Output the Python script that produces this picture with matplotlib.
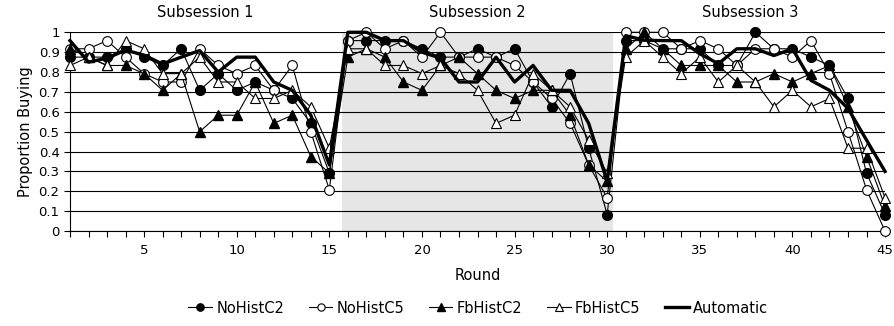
import numpy as np
import matplotlib
matplotlib.use("Agg")
import matplotlib.pyplot as plt
from matplotlib.ticker import MultipleLocator, FixedLocator

# rounds 1..45, three subsessions of 15 rounds
rounds = np.arange(1, 46)

no_hist_c2 = [0.875, 0.875, 0.875, 0.917, 0.875, 0.833, 0.917, 0.708, 0.792, 0.708, 0.75, 0.708, 0.667, 0.542, 0.292,
              0.958, 0.958, 0.958, 0.958, 0.917, 0.875, 0.875, 0.917, 0.875, 0.917, 0.75, 0.625, 0.792, 0.417, 0.083,
              0.958, 0.958, 0.917, 0.917, 0.917, 0.833, 0.833, 1.0, 0.917, 0.917, 0.875, 0.833, 0.667, 0.292, 0.083]
no_hist_c5 = [0.917, 0.917, 0.958, 0.875, 0.792, 0.75, 0.75, 0.917, 0.833, 0.792, 0.833, 0.708, 0.833, 0.5, 0.208,
              0.958, 1.0, 0.917, 0.958, 0.875, 1.0, 0.875, 0.875, 0.875, 0.833, 0.75, 0.667, 0.542, 0.333, 0.167,
              1.0, 1.0, 1.0, 0.917, 0.958, 0.917, 0.833, 0.917, 0.917, 0.875, 0.958, 0.792, 0.5, 0.208, 0.0]
fb_hist_c2 = [0.917, 0.875, 0.833, 0.833, 0.792, 0.708, 0.792, 0.5, 0.583, 0.583, 0.75, 0.542, 0.583, 0.375, 0.292,
              0.875, 0.917, 0.875, 0.75, 0.708, 0.833, 0.875, 0.792, 0.708, 0.667, 0.708, 0.708, 0.583, 0.333, 0.25,
              0.917, 1.0, 0.917, 0.833, 0.833, 0.833, 0.75, 0.75, 0.792, 0.75, 0.792, 0.833, 0.625, 0.375, 0.125]
fb_hist_c5 = [0.833, 0.875, 0.833, 0.958, 0.917, 0.792, 0.792, 0.875, 0.75, 0.75, 0.667, 0.667, 0.708, 0.625, 0.417,
              0.917, 0.917, 0.833, 0.833, 0.792, 0.833, 0.792, 0.708, 0.542, 0.583, 0.792, 0.708, 0.625, 0.458, 0.292,
              0.875, 0.958, 0.875, 0.792, 0.875, 0.75, 0.833, 0.75, 0.625, 0.708, 0.625, 0.667, 0.417, 0.417, 0.167]
automatic = [0.958, 0.85, 0.87, 0.91, 0.885, 0.84, 0.875, 0.908, 0.8, 0.875, 0.875, 0.75, 0.708, 0.583, 0.333,
             1.0, 1.0, 0.958, 0.958, 0.9, 0.87, 0.75, 0.75, 0.875, 0.75, 0.833, 0.708, 0.708, 0.542, 0.25,
             0.983, 0.96, 0.958, 0.958, 0.892, 0.842, 0.917, 0.917, 0.883, 0.917, 0.758, 0.708, 0.617, 0.458, 0.3]

subsession_labels = ["Subsession 1", "Subsession 2", "Subsession 3"]
subsession_pos = [8.3, 23.0, 37.7]
shade_span = (15.7, 30.3)
ytick_labels = ['0', '0.1', '0.2', '0.3', '0.4', '0.5', '0.6', '0.7', '0.8', '0.9', '1']

plt.rcParams['font.family'] = ['DejaVu Sans']

fig = plt.figure(figsize=(8.94, 3.26), dpi=100)
ax = fig.add_axes([0.0783, 0.291, 0.9117, 0.61])

ax.axvspan(*shade_span, color='#e6e6e6', lw=0, zorder=0)

lw_thin = 0.8
ms = 7
ax.plot(rounds, no_hist_c2, color='black', lw=lw_thin, marker='o', ms=ms,
        mfc='black', mec='black', label='NoHistC2', zorder=3, clip_on=False)
ax.plot(rounds, no_hist_c5, color='black', lw=lw_thin, marker='o', ms=ms,
        mfc='white', mec='black', mew=0.8, label='NoHistC5', zorder=4, clip_on=False)
ax.plot(rounds, fb_hist_c2, color='black', lw=lw_thin, marker='^', ms=ms + 0.5,
        mfc='black', mec='black', label='FbHistC2', zorder=5, clip_on=False)
ax.plot(rounds, fb_hist_c5, color='black', lw=lw_thin, marker='^', ms=ms + 0.5,
        mfc='white', mec='black', mew=0.8, label='FbHistC5', zorder=6, clip_on=False)
ax.plot(rounds, automatic, color='black', lw=2.4, label='Automatic', zorder=7, clip_on=False)

ax.set_xlim(1, 45)
ax.set_ylim(0, 1)
ax.xaxis.set_major_locator(FixedLocator([5, 10, 15, 20, 25, 30, 35, 40, 45]))
ax.xaxis.set_minor_locator(MultipleLocator(1))
ax.set_yticks(np.arange(0, 1.01, 0.1))
ax.set_yticklabels(ytick_labels)
ax.tick_params(axis='both', which='both', direction='out', length=4, width=0.8,
               labelsize=9.5, colors='black')
ax.tick_params(axis='x', pad=5)
ax.grid(axis='y', color='black', lw=0.8)
ax.set_axisbelow(True)

for side in ['top', 'right']:
    ax.spines[side].set_visible(False)
for side in ['left', 'bottom']:
    ax.spines[side].set_linewidth(0.8)

ax.set_ylabel('Proportion Buying', fontsize=10.5, labelpad=4)
ax.set_xlabel('Round', fontsize=10.5, labelpad=8)

for lbl, xp in zip(subsession_labels, subsession_pos):
    ax.text(xp, 1.10, lbl, transform=ax.get_xaxis_transform(), ha='center', va='center', fontsize=10.5)

fig.legend(loc='center', bbox_to_anchor=(0.535, 0.055), ncol=5, frameon=False,
           fontsize=10.5, handlelength=1.6, handletextpad=0.3, columnspacing=1.7, markerscale=0.75)

fig.savefig('out.png', dpi=100)
